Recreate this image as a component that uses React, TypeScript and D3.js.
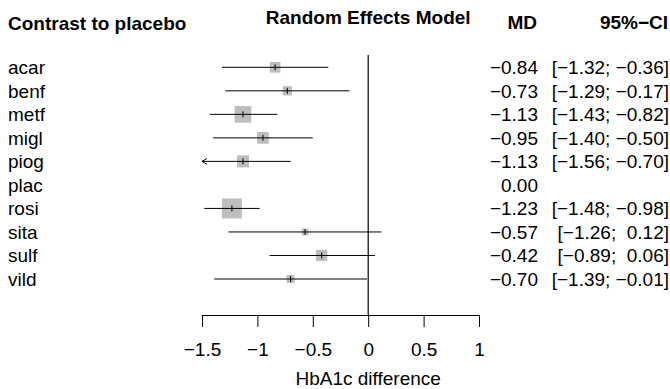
import React, { useRef, useEffect } from 'react';
import * as d3 from 'd3';

// forest plot data
const treatments = ['acar', 'benf', 'metf', 'migl', 'piog', 'plac', 'rosi', 'sita', 'sulf', 'vild'];
const md = [-0.84, -0.73, -1.13, -0.95, -1.13, 0, -1.23, -0.57, -0.42, -0.70];
const lower = [-1.32, -1.29, -1.43, -1.40, -1.56, null, -1.48, -1.26, -0.89, -1.39];
const upper = [-0.36, -0.17, -0.82, -0.50, -0.70, null, -0.98, 0.12, 0.06, -0.01];
const weights = [11.4, 8.6, 27.9, 13.7, 14.4, 0, 40, 4.5, 12.8, 6.4];
const axisTicks = [-1.5, -1, -0.5, 0, 0.5, 1];

const W = 670;
const H = 389;
const FONT = '"Liberation Sans", Arial, Helvetica, sans-serif';
const FS = 19;

function App() {
    const axisRef = useRef<SVGGElement>(null);

    const x = d3.scaleLinear().domain([-1.5, 1]).range([202, 479]);
    const y = d3.scalePoint<string>().domain(treatments).range([67.3, 279]);
    const size = d3.scaleSqrt().domain([0, 40]).range([0, 20]);
    const fmt = d3.format('.2f');
    const axisY = 315;

    useEffect(() => {
        const g = d3.select(axisRef.current);
        g.call(
            d3.axisBottom(x)
                .tickValues(axisTicks)
                .tickSize(12)
                .tickPadding(16)
                .tickFormat(d3.format('~g') as any)
        );
        g.select('.domain').attr('stroke', '#000').attr('stroke-width', 1);
        g.selectAll('.tick line').attr('stroke', '#000');
        g.selectAll('.tick text')
            .attr('fill', '#000')
            .style('font-size', FS + 'px')
            .style('font-family', FONT);
    }, []);

    const [x0, x1] = x.domain();

    return (
        <svg width={W} height={H} style={{ position: 'absolute', left: 0, top: 0, background: '#fff' }}
            fontFamily={FONT} fontSize={FS}>
            <text x={8} y={30} fontWeight="bold">Contrast to placebo</text>
            <text x={x(0)} y={24} fontWeight="bold" textAnchor="middle">Random Effects Model</text>
            <text x={537} y={29} fontWeight="bold" textAnchor="end">MD</text>
            <text x={668} y={29} fontWeight="bold" textAnchor="end">95%−CI</text>

            <line x1={x(0)} x2={x(0)} y1={55} y2={axisY} stroke="#000" strokeWidth={1.2} />

            {treatments.map((t, i) => {
                const cy = y(t) as number;
                const lo = lower[i];
                const hi = upper[i];
                const s = size(weights[i]);
                const ci = lo === null || hi === null ? '' :
                    `[${fmt(lo)}; ${hi < 0 ? '' : ' '}${fmt(hi)}]`;
                return (
                    <g key={t}>
                        <text x={8} y={cy + 7}>{t}</text>
                        <text x={538} y={cy + 7} textAnchor="end">{fmt(md[i])}</text>
                        <text x={669} y={cy + 7} textAnchor="end" style={{ whiteSpace: 'pre' }}>{ci}</text>
                        {lo !== null && hi !== null && (
                            <g>
                                <rect x={x(md[i]) - s / 2} y={cy - s / 2} width={s} height={s} fill="#bebebe" />
                                <line x1={x(Math.max(lo, x0))} x2={x(Math.min(hi, x1))} y1={cy} y2={cy}
                                    stroke="#000" strokeWidth={1} />
                                {lo < x0 && (
                                    <path d={`M${x(x0) + 5},${cy - 3}L${x(x0)},${cy}L${x(x0) + 5},${cy + 3}`}
                                        fill="none" stroke="#000" strokeWidth={1} />
                                )}
                                <line x1={x(md[i])} x2={x(md[i])} y1={cy - 3} y2={cy + 3} stroke="#000" strokeWidth={1} />
                            </g>
                        )}
                    </g>
                );
            })}

            <g ref={axisRef} transform={`translate(0,${axisY})`} />
            <text x={x(0)} y={385} textAnchor="middle">HbA1c difference</text>
        </svg>
    );
}

export default App;
